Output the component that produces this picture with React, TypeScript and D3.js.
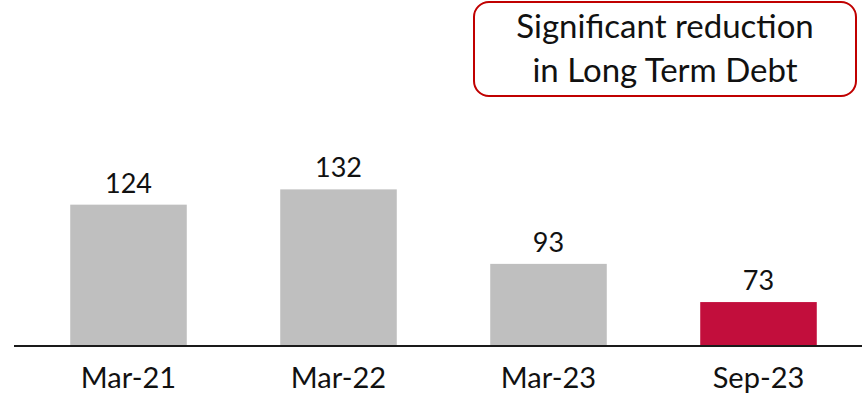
import React from "react";
import * as d3 from "d3";

const categories = ["Mar-21", "Mar-22", "Mar-23", "Sep-23"];
const values = [124, 132, 93, 73];
const barColors = ["#BFBFBF", "#BFBFBF", "#BFBFBF", "#C20E3C"];
const titleLines = ["Significant reduction", "in Long Term Debt"];

const W = 862;
const H = 396;
const FONT = "Lato, 'Open Sans', sans-serif";

export default function App() {
  const x = d3
    .scaleBand<string>()
    .domain(categories)
    .range([23.5, 863.5])
    .paddingInner(0.445)
    .paddingOuter(0.2225);
  const y = d3.scaleLinear().domain([50, 150]).range([346, 155]);
  const baseY = y(50);

  return (
    <svg
      width={W}
      height={H}
      style={{ position: "absolute", left: 0, top: 0, background: "#fff" }}
    >
      {categories.map((c, i) => (
        <g key={c}>
          <rect
            x={x(c)}
            y={y(values[i])}
            width={x.bandwidth()}
            height={baseY - y(values[i])}
            fill={barColors[i]}
          />
          <text
            x={(x(c) as number) + x.bandwidth() / 2}
            y={y(values[i]) - 12}
            textAnchor="middle"
            fontFamily={FONT}
            fontSize={27}
            fill="#111"
          >
            {values[i]}
          </text>
          <text
            x={(x(c) as number) + x.bandwidth() / 2}
            y={388}
            textAnchor="middle"
            fontFamily={FONT}
            fontSize={29}
            fill="#111"
          >
            {c}
          </text>
        </g>
      ))}
      <line x1={14} x2={862} y1={baseY} y2={baseY} stroke="#1a1a1a" strokeWidth={2} />
      <rect
        x={474}
        y={2}
        width={382}
        height={94}
        rx={15}
        ry={15}
        fill="#fff"
        stroke="#C00000"
        strokeWidth={2}
      />
      {titleLines.map((t, i) => (
        <text
          key={t}
          x={665}
          y={38 + i * 44}
          textAnchor="middle"
          fontFamily={FONT}
          fontSize={33}
          fill="#111"
        >
          {t}
        </text>
      ))}
    </svg>
  );
}
